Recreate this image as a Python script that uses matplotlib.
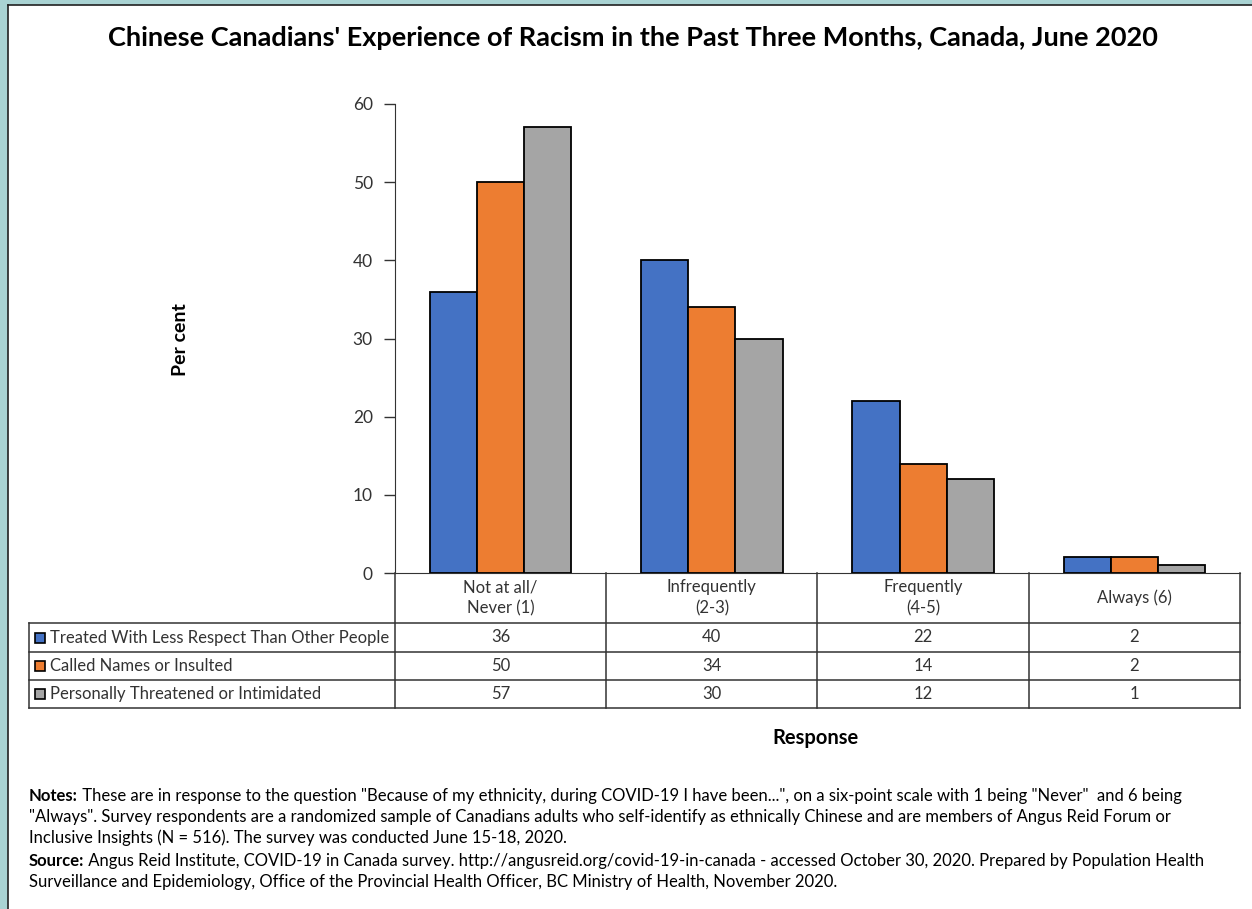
import numpy as np
import matplotlib
matplotlib.use("Agg")
import matplotlib.pyplot as plt
from matplotlib.lines import Line2D
from matplotlib.patches import Rectangle

categories = ["Not at all/\nNever (1)", "Infrequently\n(2-3)", "Frequently\n(4-5)", "Always (6)"]
series = ["Treated With Less Respect Than Other People",
          "Called Names or Insulted",
          "Personally Threatened or Intimidated"]
treated = [36, 40, 22, 2]
called = [50, 34, 14, 2]
threatened = [57, 30, 12, 1]
colors = ["#4472C4", "#ED7D31", "#A5A5A5"]

title = "Chinese Canadians' Experience of Racism in the Past Three Months, Canada, June 2020"
notes = [
    ("Notes:", ' These are in response to the question "Because of my ethnicity, during COVID-19 I have been...", on a six-point scale with 1 being "Never"  and 6 being'),
    ("", '"Always". Survey respondents are a randomized sample of Canadians adults who self-identify as ethnically Chinese and are members of Angus Reid Forum or'),
    ("", "Inclusive Insights (N = 516). The survey was conducted June 15-18, 2020."),
    ("Source:", " Angus Reid Institute, COVID-19 in Canada survey. http://angusreid.org/covid-19-in-canada - accessed October 30, 2020. Prepared by Population Health"),
    ("", "Surveillance and Epidemiology, Office of the Provincial Health Officer, BC Ministry of Health, November 2020."),
]

plt.rcParams["font.family"] = ["Lato", "DejaVu Sans"]

W, H = 1252, 909
fig = plt.figure(figsize=(W / 100, H / 100), dpi=100)


def fx(x):
    return x / W


def fy(y):
    return 1 - y / H


# frame: teal strip on the left and top with a dark rule
fig.patches.append(Rectangle((0, 0), fx(7), 1, transform=fig.transFigure, color="#A9D3D3", zorder=0))
fig.patches.append(Rectangle((0, fy(4)), 1, 1 - fy(4), transform=fig.transFigure, color="#A9D3D3", zorder=0))
fig.add_artist(Line2D([fx(7.5), fx(7.5)], [0, fy(4.5)], color="#222222", lw=1.2))
fig.add_artist(Line2D([fx(7.5), 1], [fy(4.5), fy(4.5)], color="#222222", lw=1.2))

ax_l, ax_r, ax_t, ax_b = 395, 1240, 104, 573
ax = fig.add_axes([fx(ax_l), fy(ax_b), fx(ax_r - ax_l), (ax_b - ax_t) / H])

x = np.arange(len(categories))
w = 0.223
for i, vals in enumerate([treated, called, threatened]):
    ax.bar(x + (i - 1) * w, vals, width=w, color=colors[i], edgecolor="black", linewidth=1.3, zorder=3)

ax.set_xlim(-0.5, len(categories) - 0.5)
ax.set_ylim(0, 60)
ax.set_yticks(range(0, 61, 10))
ax.set_xticks([])
ax.spines["top"].set_visible(False)
ax.spines["right"].set_visible(False)
ax.spines["left"].set_color("#333333")
ax.spines["bottom"].set_color("#333333")
ax.tick_params(axis="y", length=8, width=1, color="#333333", labelsize=12.5,
               labelcolor="#333333", pad=8)

# data table under the axes
col_edges = np.linspace(ax_l, ax_r, len(categories) + 1)
row_edges = [573, 623, 652, 680, 708]
tbl_left = 29
lc = "#333333"
for y in row_edges[1:]:
    fig.add_artist(Line2D([fx(tbl_left), fx(ax_r)], [fy(y), fy(y)], color=lc, lw=1.1))
for xe in col_edges:
    fig.add_artist(Line2D([fx(xe), fx(xe)], [fy(573), fy(708)], color=lc, lw=1.1))
fig.add_artist(Line2D([fx(tbl_left), fx(tbl_left)], [fy(623), fy(708)], color=lc, lw=1.1))

for j, cat in enumerate(categories):
    cx = (col_edges[j] + col_edges[j + 1]) / 2
    fig.text(fx(cx), fy(598), cat, ha="center", va="center", fontsize=12,
             color="#333333", linespacing=1.4)

for i, (name, vals) in enumerate(zip(series, [treated, called, threatened])):
    cy = (row_edges[i + 1] + row_edges[i + 2]) / 2
    fig.patches.append(Rectangle((fx(35), fy(cy + 5)), fx(10), 10 / H, transform=fig.transFigure,
                                 facecolor=colors[i], edgecolor="black", lw=1.2))
    fig.text(fx(50), fy(cy), name, ha="left", va="center", fontsize=12, color="#333333")
    for j, v in enumerate(vals):
        cx = (col_edges[j] + col_edges[j + 1]) / 2
        fig.text(fx(cx), fy(cy), str(v), ha="center", va="center", fontsize=12, color="#333333")

fig.text(fx(633), fy(38), title, ha="center", va="center", fontsize=19.5, fontweight="bold")
fig.text(fx(181), fy(340), "Per cent", ha="center", va="center", rotation=90,
         fontsize=14, fontweight="bold")
fig.text(fx(815), fy(738), "Response", ha="center", va="center", fontsize=14.5, fontweight="bold")

line_y = [796, 817, 838, 861, 882]
for (bold, rest), y in zip(notes, line_y):
    if bold:
        t = fig.text(fx(29), fy(y + 5), bold, ha="left", va="baseline", fontsize=12, fontweight="bold")
        ax.annotate(rest, xy=(1, 0), xycoords=t, ha="left", va="bottom", fontsize=12,
                    annotation_clip=False)
    else:
        fig.text(fx(29), fy(y + 5), rest, ha="left", va="baseline", fontsize=12)

fig.savefig("out.png", dpi=100)
